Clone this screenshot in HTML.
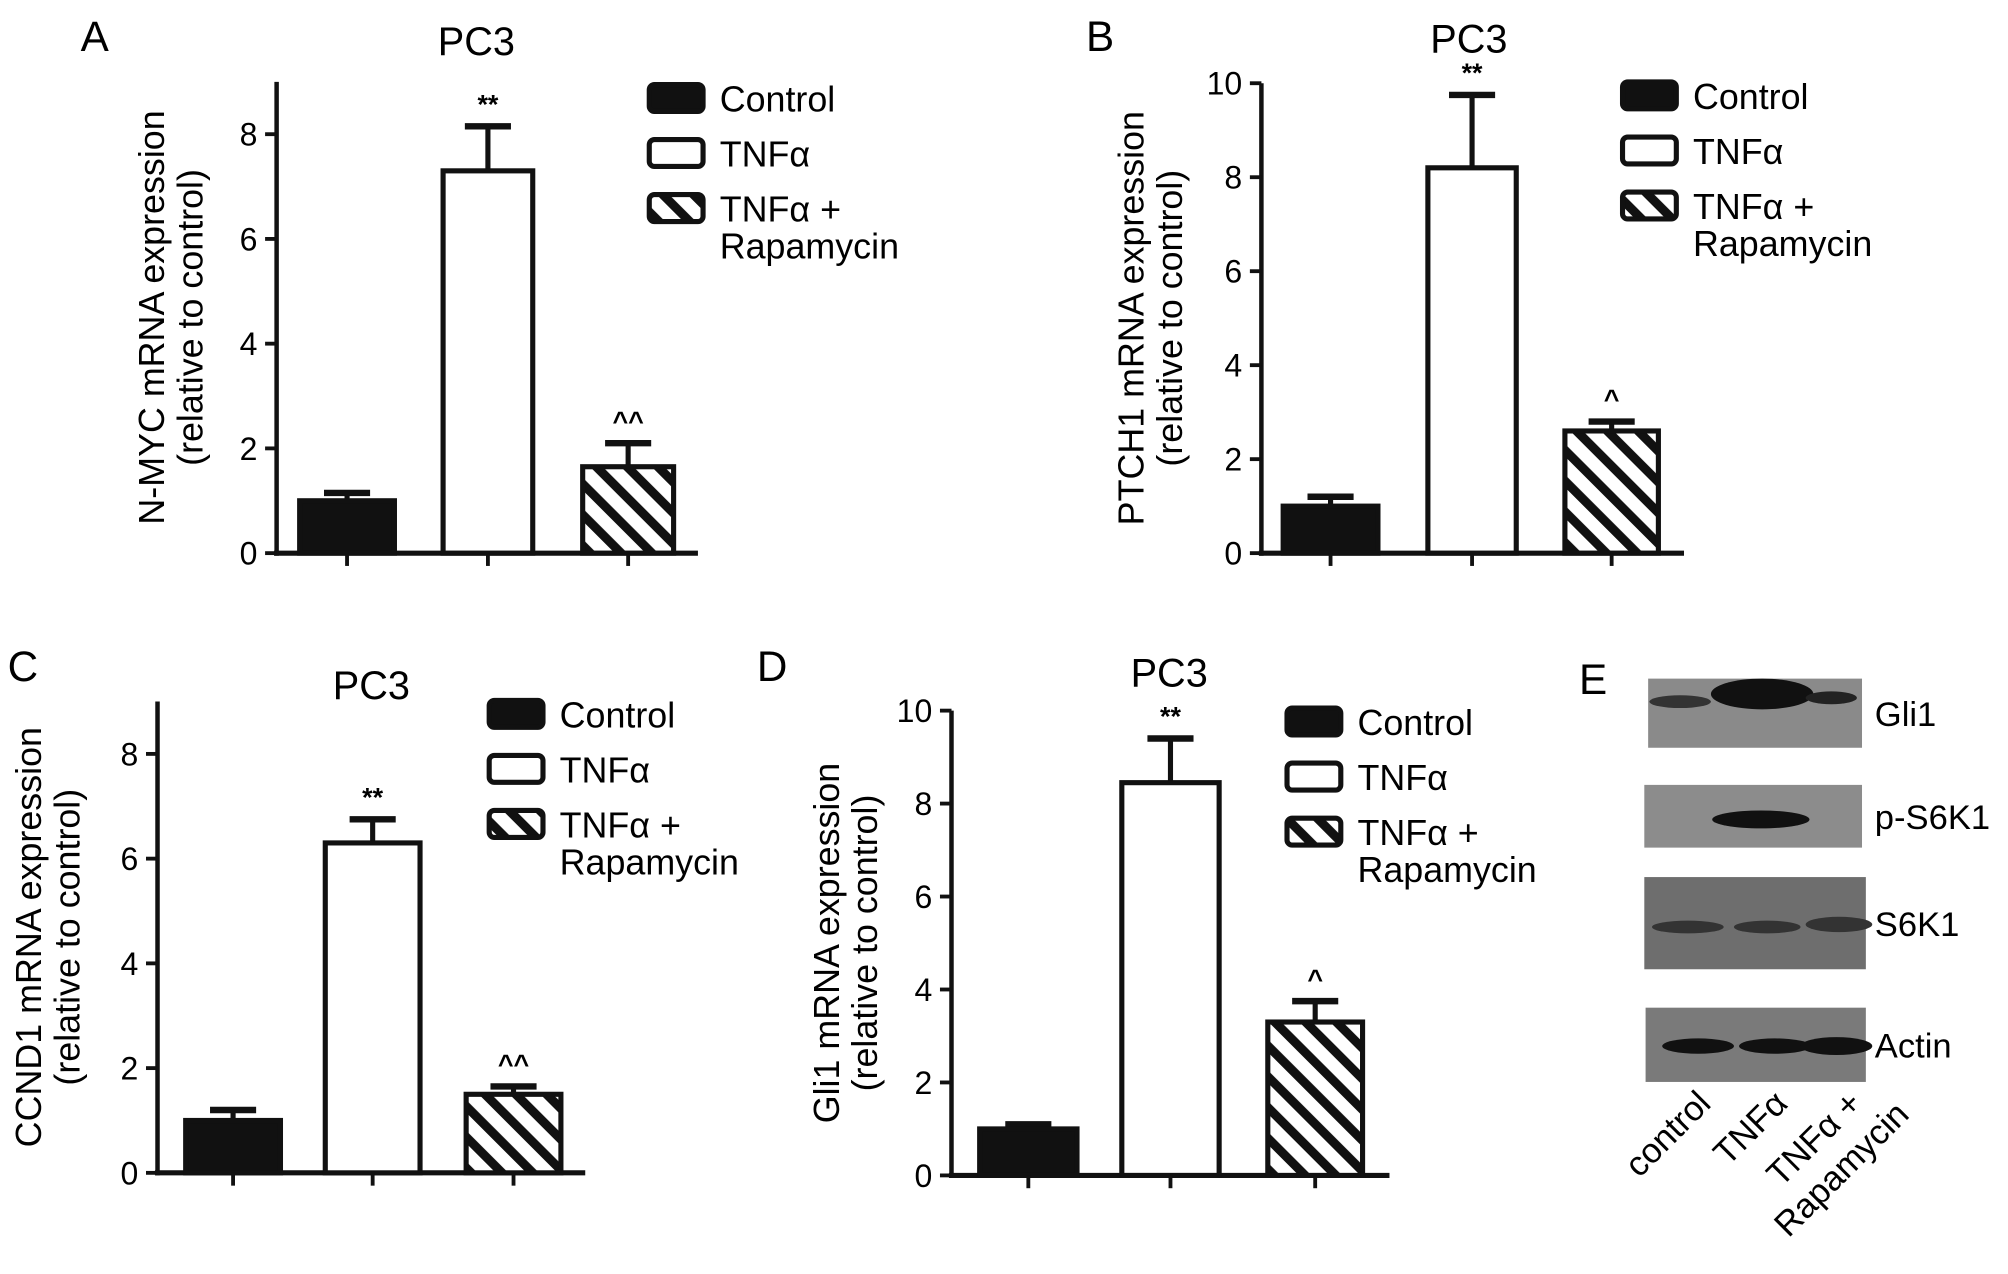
<!DOCTYPE html>
<html><head><meta charset="utf-8"><style>
html,body{margin:0;padding:0;background:#fff;}
svg{display:block;font-family:"Liberation Sans",Arial,sans-serif;}
</style></head><body>
<svg id="fig" width="2008" height="1274" viewBox="0 0 1568 995" preserveAspectRatio="none" xmlns="http://www.w3.org/2000/svg">
<defs>
<pattern id="hatch" patternUnits="userSpaceOnUse" width="17" height="17" patternTransform="rotate(-45)">
<rect width="17" height="17" fill="#fff"/><rect width="7" height="17" fill="#111"/>
</pattern>
</defs>
</svg>
<script>
const categories = ["Control", "TNFα", "TNFα + Rapamycin"];
const valuesA = [1.0, 7.3, 1.65];
const errorsA = [0.15, 0.85, 0.45];
const valuesB = [1.0, 8.2, 2.6];
const errorsB = [0.2, 1.55, 0.2];
const valuesC = [1.0, 6.3, 1.5];
const errorsC = [0.2, 0.45, 0.15];
const valuesD = [1.0, 8.45, 3.3];
const errorsD = [0.1, 0.95, 0.45];
const ticksA = [0, 2, 4, 6, 8];
const ticksB = [0, 2, 4, 6, 8, 10];
const ticksC = [0, 2, 4, 6, 8];
const ticksD = [0, 2, 4, 6, 8, 10];
const sigA = ["", "**", "^^"];
const sigB = ["", "**", "^"];
const sigC = ["", "**", "^^"];
const sigD = ["", "**", "^"];
const blotLabels = ["Gli1", "p-S6K1", "S6K1", "Actin"];

const svg = document.getElementById('fig');
const NS = 'http://www.w3.org/2000/svg';
function mk(tag, attrs, parent, text) {
  const e = document.createElementNS(NS, tag);
  for (const k in attrs) e.setAttribute(k, attrs[k]);
  if (text !== undefined) e.textContent = text;
  (parent || svg).appendChild(e);
  return e;
}

const panels = [
  {id:'a', letter:'A', lx:63, ly:40, ax:216, y0:432, max:9, unit:40.9, axEnd:545, bars:[[232,310],[344,418],[453,528]], values:valuesA, errors:errorsA, ticks:ticksA, sig:sigA, title:[372,43], ylab:'N-MYC mRNA expression', labx:[128,158], legx:505, legy:64},
  {id:'b', letter:'B', lx:848, ly:40, ax:985, y0:432, max:10, unit:36.7, axEnd:1315, bars:[[1000,1078],[1113,1186],[1220,1297]], values:valuesB, errors:errorsB, ticks:ticksB, sig:sigB, title:[1147,41], ylab:'PTCH1 mRNA expression', labx:[893,923], legx:1265, legy:62},
  {id:'c', letter:'C', lx:6, ly:532, ax:123, y0:916, max:9, unit:40.9, axEnd:457, bars:[[143,221],[252,330],[362,440]], values:valuesC, errors:errorsC, ticks:ticksC, sig:sigC, title:[290,546], ylab:'CCND1 mRNA expression', labx:[32,62], legx:380, legy:545},
  {id:'d', letter:'D', lx:591, ly:532, ax:743, y0:918, max:10, unit:36.3, axEnd:1085, bars:[[763,843],[874,954],[988,1066]], values:valuesD, errors:errorsD, ticks:ticksD, sig:sigD, title:[913,536], ylab:'Gli1 mRNA expression', labx:[655,685], legx:1003, legy:551}
];
const fills = ['#111', '#fff', 'url(#hatch)'];

panels.forEach(p => {
  const g = mk('g', {});
  
  
  const y = v => p.y0 - v * p.unit;
  let t = mk('text', {x:p.lx, y:p.ly, 'font-size':33}, g, p.letter);
  
  
  t = mk('text', {x:p.title[0], y:p.title[1], 'font-size':31, 'text-anchor':'middle'}, g, 'PC3');
  
  
  const yl = mk('text', {transform:`translate(${p.labx[0]},${(p.y0 + y(p.max))/2}) rotate(-90)`, 'font-size':28, 'text-anchor':'middle'}, g);
  
  
  mk('tspan', {x:0, y:0}, yl, p.ylab);
  mk('tspan', {x:0, y:p.labx[1]-p.labx[0]}, yl, '(relative to control)');
  let a = mk('line', {x1:p.ax, y1:p.y0+2, x2:p.ax, y2:y(p.max), stroke:'#111', 'stroke-width':3.5}, g);
  
  
  a = mk('line', {x1:p.ax-2, y1:p.y0, x2:p.axEnd, y2:p.y0, stroke:'#111', 'stroke-width':4}, g);
  
  
  p.ticks.forEach(v => {
    const tk = mk('line', {x1:p.ax-9, y1:y(v), x2:p.ax, y2:y(v), stroke:'#111', 'stroke-width':3}, g);
    
    
    const tl = mk('text', {x:p.ax-15, y:y(v)+9, 'font-size':25, 'text-anchor':'end'}, g, v);
    
    
  });
  p.values.forEach((v, i) => {
    const [x1, x2] = p.bars[i], cx = (x1 + x2) / 2;
    const top = y(v), et = y(v + p.errors[i]);
    const el = mk('line', {x1:cx, y1:top, x2:cx, y2:et, stroke:'#111', 'stroke-width':4}, g);
    
    
    const cap = mk('line', {x1:cx-18, y1:et, x2:cx+18, y2:et, stroke:'#111', 'stroke-width':5}, g);
    
    
    const b = mk('rect', {x:x1+2, y:top, width:x2-x1-4, height:p.y0-top, fill:fills[i], stroke:'#111', 'stroke-width':4}, g);
    
    
    const xt = mk('line', {x1:cx, y1:p.y0, x2:cx, y2:p.y0+10, stroke:'#111', 'stroke-width':3}, g);
    
    
    if (p.sig[i]) {
      const s = mk('text', {x:cx, y:et-10, 'font-size':21, 'text-anchor':'middle', 'font-weight':'bold'}, g, p.sig[i]);
      
      
    }
  });
  const names = ['Control', 'TNFα', 'TNFα +'];
  names.forEach((n, i) => {
    const ly = p.legy + i * 43;
    const lr = mk('rect', {x:p.legx+2, y:ly+2, width:42, height:21, rx:4, fill:fills[i], stroke:'#111', 'stroke-width':4}, g);
    
    
    const lt = mk('text', {x:p.legx+57, y:ly+23, 'font-size':28}, g, n);
    
    
  });
  const lr2 = mk('text', {x:p.legx+57, y:p.legy+2*43+52, 'font-size':28}, g, 'Rapamycin');
  
  
});

const ge = mk('g', {});


let te = mk('text', {x:1233, y:542, 'font-size':33}, ge, 'E');


const blots = [
  {x:1287, y:530, w:167, h:54, fill:'#8a8a8a', bands:[[1312,548,24,5,'#333'],[1376,542,40,12,'#111'],[1430,545,20,5,'#222']]},
  {x:1284, y:613, w:170, h:49, fill:'#8c8c8c', bands:[[1375,640,38,7,'#111']]},
  {x:1284, y:685, w:173, h:72, fill:'#6e6e6e', bands:[[1318,724,28,5,'#333'],[1380,724,26,5,'#333'],[1436,722,26,6,'#333']]},
  {x:1285, y:787, w:172, h:58, fill:'#7a7a7a', bands:[[1326,817,28,6,'#111'],[1386,817,28,6,'#111'],[1434,817,28,7,'#111']]}
];
blots.forEach((b, i) => {
  const r = mk('rect', {x:b.x, y:b.y, width:b.w, height:b.h, fill:b.fill}, ge);
  
  
  b.bands.forEach((bd, j) => {
    const e = mk('ellipse', {cx:bd[0], cy:bd[1], rx:bd[2], ry:bd[3], fill:bd[4]}, ge);
    
    
  });
  const l = mk('text', {x:1464, y:b.y + b.h/2 + 10, 'font-size':27}, ge, blotLabels[i]);
  
  
});
const laneLabels = [['control'], ['TNFα'], ['TNFα +', 'Rapamycin']];
const laneX = [1326, 1386, 1444];
laneLabels.forEach((ls, i) => {
  const t = mk('text', {transform:`translate(${laneX[i]},852) rotate(-45)`, 'font-size':27, 'text-anchor':'end'}, ge);
  
  
  ls.forEach((s, k) => mk('tspan', {x:k ? 20 : 0, y:16 + k * 32}, t, s));
});
</script>
</body></html>
